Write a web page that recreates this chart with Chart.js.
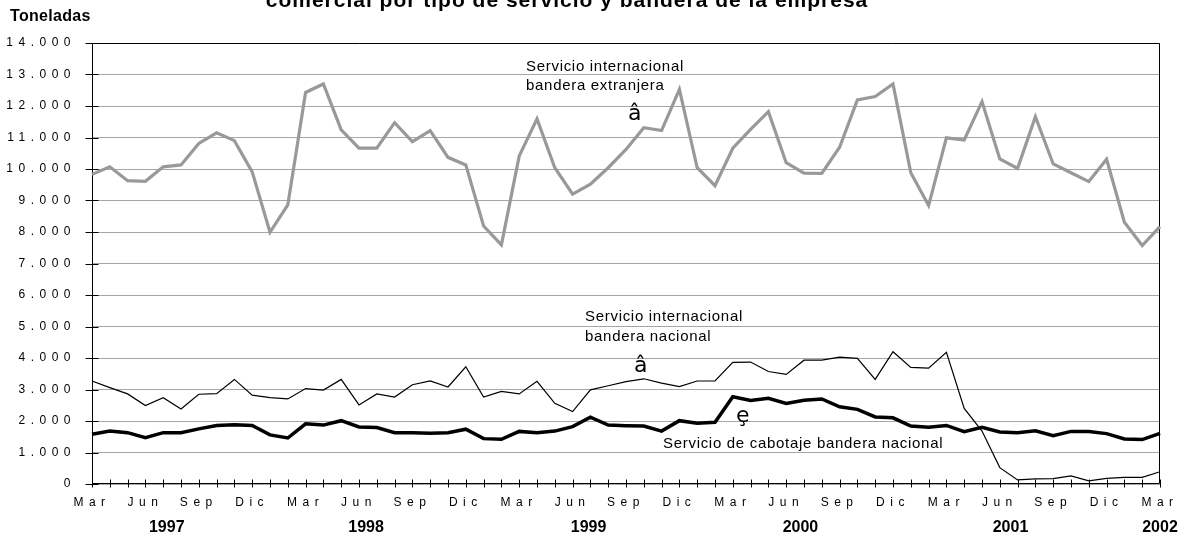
<!DOCTYPE html>
<html lang="es">
<head>
<meta charset="UTF-8">
<title>Toneladas por tipo de servicio y bandera</title>
<script src="https://cdn.jsdelivr.net/npm/chart.js"></script>
<style>
  html, body { margin: 0; padding: 0; background: #fff; }
  #wrap { width: 1186px; height: 539px; }
</style>
</head>
<body>
<div id="wrap"><canvas id="chart"></canvas></div>
<script>
// meses: marzo 1997 a marzo 2002
const monthNames = ['Ene','Feb','Mar','Abr','May','Jun','Jul','Ago','Sep','Oct','Nov','Dic'];
const months = [];
for (let k = 2; k <= 62; k++) months.push(monthNames[k % 12]);
const years = ['1997', '1998', '1999', '2000', '2001', '2002'];

// toneladas
const intlExtranjera = [
  9830, 10070, 9630, 9610, 10070, 10130, 10810, 11150, 10900, 9910,
  7990, 8860, 12430, 12700, 11240, 10660, 10660, 11470, 10870, 11220,
  10370, 10130, 8190, 7590, 10410, 11590, 10040, 9200, 9520, 10040,
  10620, 11310, 11220, 12530, 10040, 9470, 10660, 11260, 11820, 10200,
  9870, 9860, 10690, 12190, 12300, 12700, 9880, 8840, 10990, 10920,
  12140, 10320, 10020, 11660, 10160, 9880, 9600, 10310, 8310, 7570, 8170
];
const intlNacional = [
  3270, 3060, 2860, 2490, 2740, 2380, 2850, 2870, 3320, 2820,
  2740, 2700, 3030, 2980, 3320, 2510, 2860, 2760, 3150, 3270,
  3080, 3720, 2760, 2940, 2860, 3260, 2560, 2300, 2990, 3120,
  3250, 3340, 3200, 3090, 3270, 3270, 3860, 3870, 3570, 3480,
  3930, 3930, 4030, 3990, 3320, 4200, 3700, 3680, 4180, 2400,
  1680, 520, 130, 160, 170, 260, 100, 180, 210, 210, 390
];
const cabotaje = [
  1580, 1680, 1630, 1470, 1630, 1630, 1750, 1860, 1880, 1860,
  1560, 1460, 1910, 1870, 2010, 1810, 1790, 1630, 1630, 1610,
  1630, 1740, 1440, 1420, 1670, 1630, 1680, 1820, 2120, 1870,
  1850, 1840, 1680, 2010, 1930, 1960, 2770, 2650, 2720, 2560,
  2660, 2700, 2450, 2370, 2130, 2100, 1840, 1800, 1860, 1660,
  1800, 1650, 1630, 1690, 1530, 1670, 1670, 1600, 1430, 1410, 1610
];

const FONT = '"Liberation Sans", Arial, sans-serif';

// marco, marcas de ejes y textos sueltos
const decor = {
  id: 'decor',
  beforeDraw(chart) {
    chart.ctx.letterSpacing = '5.5px';
  },
  beforeDatasetsDraw(chart) {
    const { ctx, chartArea: a, scales } = chart;
    ctx.letterSpacing = '0px';
    ctx.save();
    ctx.strokeStyle = '#000';
    ctx.lineWidth = 1;
    const L = Math.round(a.left) + 0.5, R = Math.round(a.right) - 0.5;
    const T = Math.round(a.top) + 0.5, B = Math.round(a.bottom) - 0.5;
    ctx.beginPath();
    ctx.moveTo(L, T); ctx.lineTo(R, T); ctx.lineTo(R, B); ctx.lineTo(L, B); ctx.closePath();
    scales.y.ticks.forEach(t => {
      const y = Math.round(scales.y.getPixelForValue(t.value)) + 0.5;
      ctx.moveTo(L - 7, y); ctx.lineTo(L + 6, y);
    });
    months.forEach((m, i) => {
      const x = Math.round(scales.x.getPixelForValue(i)) + 0.5;
      ctx.moveTo(x, B - 4); ctx.lineTo(x, B + 4);
    });
    ctx.stroke();
    ctx.restore();
  },
  afterDraw(chart) {
    const { ctx, scales } = chart;
    ctx.save();
    ctx.fillStyle = '#000';
    ctx.textBaseline = 'alphabetic';
    ctx.textAlign = 'center';
    ctx.letterSpacing = '1px';
    ctx.font = 'bold 21px ' + FONT;
    ctx.fillText('comercial por tipo de servicio y bandera de la empresa', 567, 7);

    ctx.textAlign = 'left';
    ctx.letterSpacing = '0.3px';
    ctx.font = 'bold 16px ' + FONT;
    ctx.fillText('Toneladas', 10, 21);

    // años bajo los meses
    const yearAt = [4.2, 15.4, 27.9, 39.8, 51.6, 60];
    ctx.letterSpacing = '0px';
    ctx.textAlign = 'center';
    ctx.textBaseline = 'middle';
    ctx.font = 'bold 16px ' + FONT;
    years.forEach((yr, k) => {
      ctx.fillText(yr, scales.x.getPixelForValue(yearAt[k]), 528);
    });

    ctx.textAlign = 'left';
    ctx.letterSpacing = '0.7px';
    ctx.font = '15px ' + FONT;
    ctx.fillText('Servicio internacional', 526, 67);
    ctx.fillText('bandera extranjera', 526, 86);
    ctx.fillText('Servicio internacional', 585, 317);
    ctx.fillText('bandera nacional', 585, 337);
    ctx.fillText('Servicio de cabotaje bandera nacional', 663, 444);

    ctx.letterSpacing = '0px';
    ctx.font = '22px "DejaVu Sans", sans-serif';
    ctx.fillText('â', 628, 114);
    ctx.fillText('â', 634, 366);
    ctx.fillText('ȩ', 736, 416);
    ctx.restore();
  }
};

new Chart(document.getElementById('chart'), {
  type: 'line',
  data: {
    labels: months,
    datasets: [
      {
        label: 'Servicio internacional bandera extranjera',
        data: intlExtranjera,
        borderColor: '#999999',
        borderWidth: 3.2
      },
      {
        label: 'Servicio internacional bandera nacional',
        data: intlNacional,
        borderColor: '#000000',
        borderWidth: 1.2
      },
      {
        label: 'Servicio de cabotaje bandera nacional',
        data: cabotaje,
        borderColor: '#000000',
        borderWidth: 3.5
      }
    ]
  },
  options: {
    responsive: true,
    maintainAspectRatio: false,
    animation: false,
    layout: { padding: { top: 43, right: 26, left: 0, bottom: 0 } },
    elements: {
      line: { tension: 0, fill: false, borderJoinStyle: 'miter' },
      point: { radius: 0, hoverRadius: 0 }
    },
    plugins: {
      legend: { display: false },
      tooltip: { enabled: false },
      title: { display: false }
    },
    scales: {
      x: {
        offset: false,
        grid: { display: false, drawTicks: false },
        border: { display: false },
        afterFit(s) { s.height = 55; },
        ticks: {
          autoSkip: false,
          maxRotation: 0,
          padding: 11,
          color: '#000',
          font: { family: FONT, size: 12 },
          callback(v, i) { return i % 3 === 0 ? months[i] : ''; }
        }
      },
      y: {
        min: 0,
        max: 14000,
        grid: { color: '#a6a6a6', lineWidth: 1, drawTicks: false },
        border: { display: false },
        afterFit(s) { s.width = 92; },
        ticks: {
          stepSize: 1000,
          padding: 16,
          color: '#000',
          font: { family: FONT, size: 12 },
          callback(v) { return v === 0 ? '0' : (v / 1000) + '.000'; }
        }
      }
    }
  },
  plugins: [decor]
});
</script>
</body>
</html>
